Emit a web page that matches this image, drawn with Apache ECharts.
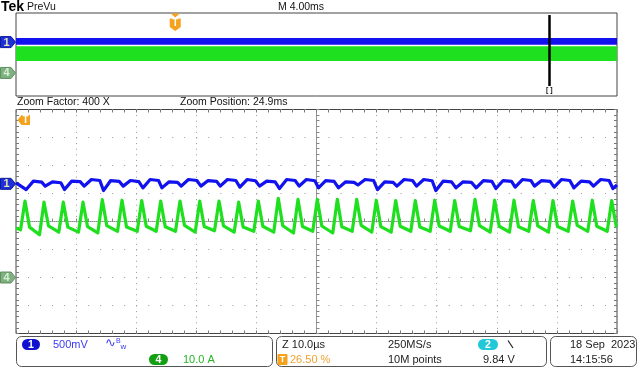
<!DOCTYPE html>
<html><head><meta charset="utf-8">
<script src="https://cdn.jsdelivr.net/npm/echarts@6/dist/echarts.min.js"></script>
<style>html,body{margin:0;padding:0;background:#fff}#c{width:640px;height:384px}</style>
</head><body><div id="c"></div>
<script>
// ---------- channel settings ----------
const ch1MvPerDiv = 500;      // CH1 500mV/div
const ch4APerDiv = 10;        // CH4 10.0 A/div
const ch1OffsetDiv = 1.345;   // CH1 ground marker position (div from centre)
const ch4OffsetDiv = -2;      // CH4 ground marker position
const recordMs = 40;          // 10 div x 4.00ms
const triggerPct = 26.5;
const zoomPosMs = 24.9;

// ---------- CH4 (current) : one entry per switching period ----------
const ch4PeakTimeUs = [-48.50,-45.34,-42.13,-38.85,-35.64,-32.36,-29.08,-25.92,-22.71,-19.43,-16.22,-12.95,-9.68,-6.36,-3.08,0.13,3.46,6.69,9.95,13.18,16.44,19.67,23.00,26.37,29.65,32.86,36.07,39.35,42.63,45.89,49.12];
const ch4PeakA = [27.3,26.9,26.9,26.9,27.8,27.6,27.5,27.3,27.3,27.3,27.3,26.9,27.3,28.3,27.9,27.9,27.9,27.9,27.6,27.5,27.5,27.6,27.5,27.9,27.6,27.6,27.5,27.5,27.3,27.6,27.5];
const ch4ValleyA = [17.0,15.3,16.2,16.2,15.9,16.5,16.5,16.5,16.5,16.2,16.7,16.2,16.5,16.2,15.9,16.5,15.9,16.5,16.2,16.2,16.5,16.5,16.5,16.7,16.2,16.2,16.5,16.2,16.5,16.5,16.5];
const ch4PostFallA = [18.0,18.4,18.0,18.2,18.5,18.0,18.3,18.1,18.6,18.2,18.4,18.0,18.3,18.5,18.2,18.4,18.1,18.6,18.2,18.3,18.0,18.4,18.2,18.5,18.3,18.1,18.4,18.2,18.6,18.3,18.2];
const ch4RiseUs = 0.75, ch4FallUs = 0.75;
const ch4StartA = 17.7, ch4EndA = 18.0;

// ---------- CH1 (voltage ripple, mV) : one entry per period ----------
const ch1DipMv  = [-102,-41,-102,-41,-120,-41,-72,-72,-41,-41,-41,-59,-41,-84,-41,-70,-72,-20,-102,-41,-41,-120,-72,-72,-84,-59,-41,-59,-72,-41,-84];
const ch1HighMv = [48,36,48,77,59,59,77,36,77,59,77,77,48,77,77,59,36,77,36,77,77,48,36,59,59,77,59,77,48,77,59];
const ch1LateMv = [30,20,40,60,45,40,60,25,60,45,60,55,35,60,55,45,25,60,25,60,55,35,25,45,45,60,45,60,35,60,45];
const ch1DipLagUs = 0.2, ch1RiseUs = 1.4, ch1LateUs = 2.8;
const ch1StartMv = 18, ch1EndMv = -20;

// ---------- PreVu overview envelopes ----------
const ovCh1EnvelopeMv = [-148, 228];
const ovCh4EnvelopeA = [13, 29];

// ---------- build series in screen divisions ----------
const d1 = mv => ch1OffsetDiv + mv / ch1MvPerDiv;
const d4 = a => ch4OffsetDiv + a / ch4APerDiv;
const ch4Pts = [[-50, d4(ch4StartA)]];
ch4PeakTimeUs.forEach((tp, i) => {
  ch4Pts.push([tp - ch4RiseUs, d4(ch4ValleyA[i])]);
  ch4Pts.push([tp, d4(ch4PeakA[i])]);
  if (tp + ch4FallUs <= 50) ch4Pts.push([tp + ch4FallUs, d4(ch4PostFallA[i])]);
});
ch4Pts.push([50, d4(ch4EndA)]);
const ch1Pts = [[-50, d1(ch1StartMv)]];
ch4PeakTimeUs.forEach((tp, i) => {
  if (tp + ch1DipLagUs <= 50) ch1Pts.push([tp + ch1DipLagUs, d1(ch1DipMv[i])]);
  if (tp + ch1RiseUs <= 50) ch1Pts.push([tp + ch1RiseUs, d1(ch1HighMv[i])]);
  if (tp + ch1LateUs <= 50) ch1Pts.push([tp + ch1LateUs, d1(ch1LateMv[i])]);
});
ch1Pts.push([50, d1(ch1EndMv)]);

const BLUE = '#1212ee', GREEN = '#1ee01e', ORANGE = '#f5a21c';
const FONT = 'Liberation Sans';
const chart = echarts.init(document.getElementById('c'));

const edgeAxis = (pos, min, max, interval) => ({
  gridIndex: 1, type: 'value', min, max, interval, position: pos,
  axisLine: {show: false, onZero: false},
  axisTick: {show: true, inside: true, length: 3, lineStyle: {color: '#777'}},
  minorTick: {show: true, splitNumber: 5, length: 3, lineStyle: {color: '#777'}},
  axisLabel: {show: false}, splitLine: {show: false}
});

chart.setOption({
  animation: false,
  grid: [
    {left: 16, top: 13, width: 601, height: 83, show: true, borderColor: '#444', borderWidth: 1, backgroundColor: '#fff'},
    {left: 16, top: 109.5, width: 601, height: 224, show: true, borderColor: '#444', borderWidth: 1, backgroundColor: '#fff'}
  ],
  xAxis: [
    {gridIndex: 0, type: 'value', min: 0, max: recordMs, show: false, axisLine: {onZero: false}},
    {gridIndex: 1, type: 'value', min: -50, max: 50, interval: 10, position: 'bottom',
      axisLine: {show: true, onZero: true, lineStyle: {color: '#8a8a8a', type: [1, 1]}},
      axisTick: {show: true, inside: true, length: 3, lineStyle: {color: '#888'}},
      minorTick: {show: true, splitNumber: 5, length: 3, lineStyle: {color: '#888'}},
      axisLabel: {show: false},
      splitLine: {show: true, lineStyle: {color: '#9a9a9a', type: [1, 4.6]}}},
    edgeAxis('top', -50, 50, 10),
    edgeAxis('bottom', -50, 50, 10)
  ],
  yAxis: [
    {gridIndex: 0, type: 'value', min: -4.5, max: 4.5, show: false, axisLine: {onZero: false}},
    {gridIndex: 1, type: 'value', min: -4, max: 4, interval: 1, position: 'left',
      axisLine: {show: true, onZero: true, lineStyle: {color: '#8a8a8a', type: [1, 1]}},
      axisTick: {show: true, inside: true, length: 3, lineStyle: {color: '#888'}},
      minorTick: {show: true, splitNumber: 5, length: 3, lineStyle: {color: '#888'}},
      axisLabel: {show: false},
      splitLine: {show: true, lineStyle: {color: '#9a9a9a', type: [1, 11.02]}}},
    edgeAxis('right', -4, 4, 1),
    edgeAxis('left', -4, 4, 1)
  ],
  series: [
    {type: 'line', xAxisIndex: 0, yAxisIndex: 0, data: [], silent: true,
      markArea: {silent: true, itemStyle: {color: GREEN, opacity: 1}, label: {show: false},
        data: [[{xAxis: 0, yAxis: d4(ovCh4EnvelopeA[0])}, {xAxis: recordMs, yAxis: d4(ovCh4EnvelopeA[1])}]]}},
    {type: 'line', xAxisIndex: 0, yAxisIndex: 0, data: [], silent: true,
      markArea: {silent: true, itemStyle: {color: BLUE, opacity: 1}, label: {show: false},
        data: [[{xAxis: 0, yAxis: d1(ovCh1EnvelopeMv[0])}, {xAxis: recordMs, yAxis: d1(ovCh1EnvelopeMv[1])}]]},
      markLine: {silent: true, symbol: 'none', label: {show: false}, lineStyle: {color: '#000', width: 2.5, type: 'solid'},
        data: [[{coord: [recordMs * triggerPct / 100 + zoomPosMs, 4.28]}, {coord: [recordMs * triggerPct / 100 + zoomPosMs, -3.42]}]]}},
    {type: 'line', name: 'CH4', xAxisIndex: 1, yAxisIndex: 1, data: ch4Pts, showSymbol: false, symbol: 'none',
      lineStyle: {color: GREEN, width: 3.2, join: 'round'}, z: 3},
    {type: 'line', name: 'CH1', xAxisIndex: 1, yAxisIndex: 1, data: ch1Pts, showSymbol: false, symbol: 'none',
      lineStyle: {color: BLUE, width: 3.2, join: 'round'}, z: 4}
  ]
});

// ---------- decorations placed through the axes ----------
const P = (xi, yi, v) => chart.convertToPixel({xAxisIndex: xi, yAxisIndex: yi}, v);
function txt(x, y, text, color, size, opts) {
  opts = opts || {};
  return {type: 'text', x, y, z: 50, style: {text, fill: color, font: (opts.bold ? 'bold ' : '') + size + 'px "' + (opts.family || FONT) + '"',
    align: opts.align || 'left', textAlign: opts.align || 'left', verticalAlign: 'middle', textVerticalAlign: 'middle'}};
}
function badge(yc, label, fill, stroke, color) {
  return [
    {type: 'polygon', z: 50, shape: {points: [[0.5, yc - 5.5], [11, yc - 5.5], [15.5, yc], [11, yc + 5.5], [0.5, yc + 5.5]]}, style: {fill, stroke, lineWidth: 1}},
    txt(6.5, yc + 0.5, label, color, 11, {bold: true, align: 'center'})
  ];
}
const g = [];
// channel ground markers
const m1 = P(1, 1, [-50, ch1OffsetDiv])[1], m4 = P(1, 1, [-50, ch4OffsetDiv])[1];
const o1 = P(0, 0, [0, ch1OffsetDiv])[1], o4 = P(0, 0, [0, ch4OffsetDiv])[1];
g.push(...badge(m1, '1', '#1d2fd6', '#0b1aa0', '#e8e4b0'));
g.push(...badge(o1, '1', '#1d2fd6', '#0b1aa0', '#e8e4b0'));
g.push(...badge(m4, '4', '#7fb07f', '#5f905f', '#d6f0d6'));
g.push(...badge(o4, '4', '#7fb07f', '#5f905f', '#d6f0d6'));
// trigger marker in PreVu
const tx = P(0, 0, [recordMs * triggerPct / 100, 0])[0];
g.push({type: 'polygon', z: 50, shape: {points: [[tx - 4.5, 13.5], [tx + 4.5, 13.5], [tx, 17.5]]}, style: {fill: ORANGE}});
g.push({type: 'polygon', z: 50, shape: {points: [[tx - 5.5, 18.5], [tx + 5.5, 18.5], [tx + 5.5, 27], [tx, 31], [tx - 5.5, 27]]}, style: {fill: ORANGE}});
g.push(txt(tx, 23.5, 'T', '#fff', 10, {bold: true, align: 'center'}));
// trigger marker (off-screen left) in zoom window
g.push({type: 'polygon', z: 50, shape: {points: [[17.5, 120], [21.5, 115], [30, 115], [30, 125], [21.5, 125]]}, style: {fill: ORANGE}});
g.push(txt(25.5, 120.5, 'T', '#fff', 10, {bold: true, align: 'center'}));
// zoom bracket
const zx = P(0, 0, [recordMs * triggerPct / 100 + zoomPosMs, 0])[0];
g.push(txt(zx, 90, '[ ]', '#111', 7, {align: 'center', bold: true}));
// header texts
g.push(txt(1, 7.5, 'Tek', '#000', 14, {bold: true}));
g.push(txt(27, 7, 'PreVu', '#111', 10.5));
g.push(txt(278, 7, 'M 4.00ms', '#111', 10.5));
g.push(txt(17, 102, 'Zoom Factor: 400 X', '#111', 10.5));
g.push(txt(180, 102, 'Zoom Position: 24.9ms', '#111', 10.5));
// bottom info boxes
const box = (x, w) => ({type: 'rect', z: 40, shape: {x, y: 336.5, width: w, height: 30, r: 5}, style: {fill: '#fff', stroke: '#555', lineWidth: 1}});
g.push(box(16.5, 256), box(276.5, 270), box(550.5, 86));
const pill = (x, y, w, fill, label) => [
  {type: 'rect', z: 50, shape: {x, y, width: w, height: 11, r: 5.5}, style: {fill}},
  txt(x + w / 2, y + 5.8, label, '#fff', 10.5, {bold: true, align: 'center'})
];
g.push(...pill(22, 339, 18, '#1010d0', '1'));
g.push(txt(53, 344.5, '500mV', '#3a3af5', 11));
g.push({type: 'text', x: 105, y: 344, z: 50, style: {text: '{a|∿}{b|B}{c|w}', fill: '#3a3af5', verticalAlign: 'middle',
  rich: {a: {font: '13px "DejaVu Sans"', fill: '#3a3af5'}, b: {font: '7px "' + FONT + '"', fill: '#3a3af5', verticalAlign: 'top', padding: [0, 0, 4, 0]}, c: {font: '8px "' + FONT + '"', fill: '#3a3af5', verticalAlign: 'bottom'}}}});
g.push(...pill(149, 354, 19, '#12a012', '4'));
g.push(txt(183, 359.5, '10.0 A', '#25b525', 11));
g.push(txt(282, 344.5, 'Z 10.0µs', '#222', 11));
g.push({type: 'rect', z: 50, shape: {x: 277.5, y: 354, width: 10, height: 11, r: 1}, style: {fill: ORANGE}});
g.push(txt(282.5, 359.7, 'T', '#fff', 9, {bold: true, align: 'center'}));
g.push(txt(290, 359.5, '26.50 %', '#f0a030', 11));
g.push(txt(388, 344.5, '250MS/s', '#222', 11));
g.push(txt(388, 359.5, '10M points', '#222', 11));
g.push(...pill(478, 339, 20, '#22c8d8', '2'));
g.push({type: 'line', z: 50, shape: {x1: 508, y1: 340.5, x2: 513, y2: 348}, style: {stroke: '#222', lineWidth: 1.2}});
g.push(txt(483, 359.5, '9.84 V', '#222', 11));
g.push(txt(570, 344.5, '18 Sep  2023', '#222', 11));
g.push(txt(570, 359.5, '14:15:56', '#222', 11));
chart.setOption({graphic: {elements: g}});
</script>
</body></html>
